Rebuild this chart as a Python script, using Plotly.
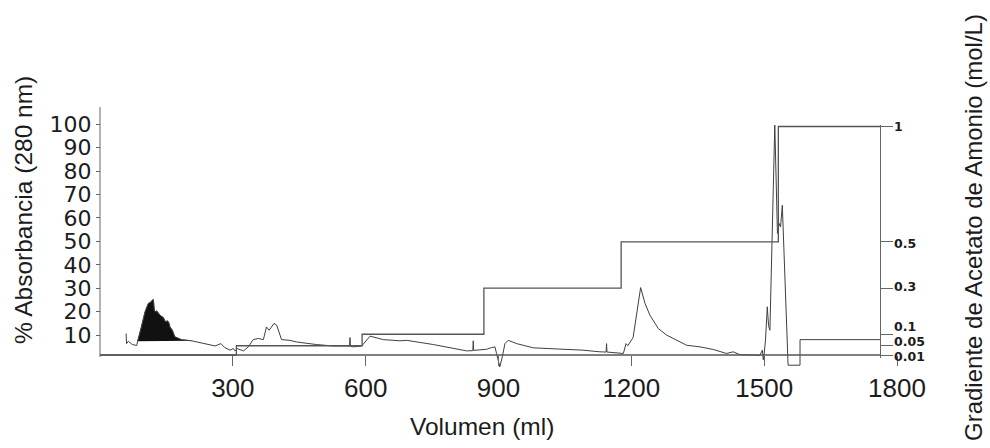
import plotly.graph_objects as go

# ---------------- data ----------------
ABS_ML = [59, 60, 64, 73, 83, 85, 93, 101.6, 109, 114, 118, 120.5, 122.7, 125.6, 127.8,
          135.5, 143, 148, 152.6, 155.8, 158, 163.4, 169, 184, 207, 237, 260, 273, 282,
          293.6, 301, 305, 310, 324, 335, 346, 357.5, 369, 376, 382, 393, 399, 410, 429,
          444, 489, 526, 557, 563.5, 564.6, 565.5, 572, 591, 610, 621, 640, 677.5, 693,
          753, 790, 828, 842, 843, 844, 873, 884.6, 892, 895.6, 903, 908.5, 914.6, 922,
          941, 978.5, 1016, 1054, 1091, 1129, 1143, 1144, 1145, 1182, 1188, 1192, 1204,
          1221, 1231, 1242, 1261, 1280, 1325, 1355, 1385, 1415, 1430, 1445, 1490, 1496,
          1498, 1500, 1503, 1507, 1510, 1513, 1524, 1530, 1534, 1537, 1541, 1554, 1581,
          1581, 1762]
ABS_VAL = [10.7, 6.4, 7.4, 6.0, 5.6, 7.4, 13.0, 19.9, 23.5, 24.0, 24.9, 25.2, 20.6, 19.9, 20.4,
           18.5, 17.5, 15.7, 16.1, 15.2, 13.5, 12.1, 9.3, 8.1, 7.6, 6.4, 5.4, 6.4, 4.7,
           3.6, 4.3, 3.3, 4.3, 3.3, 5.0, 8.1, 8.6, 8.1, 13.5, 12.1, 15.0, 14.3, 8.1, 7.8,
           7.1, 6.0, 5.4, 5.4, 5.3, 9.0, 5.2, 5.0, 5.4, 9.6, 9.0, 8.1, 7.6, 7.8,
           6.0, 4.7, 3.3, 3.4, 7.6, 3.5, 4.0, 4.7, 5.0, 2.2, -3.5, 0.7, 6.4, 7.8,
           6.4, 4.6, 4.3, 4.0, 3.6, 2.9, 2.8, 6.4, 2.8, 2.2, 6.4, 5.5, 9.0,
           30.3, 23.5, 18.5, 12.8, 10.0, 5.7, 5.0, 3.9, 2.2, 2.9, 1.7, 1.4, 3.6,
           -0.5, 2.0, 8.0, 22.1, 14.0, 12.1, 99.6, 53.4, 57.6, 56.2, 65.4, -2.8, -2.8,
           8.1, 8.1]
PEAK_RANGE = (85, 207)          # shaded fraction (ml)

GRAD_ML = [0, 308, 592, 867, 1177, 1532, 1762]
GRAD_CONC = [0.01, 0.05, 0.1, 0.3, 0.5, 1.0, 1.0]

X_TICKS = [300, 600, 900, 1200, 1500, 1800]
Y_TICKS = [10, 20, 30, 40, 50, 60, 70, 80, 90, 100]
G_TICKS = [0.01, 0.05, 0.1, 0.3, 0.5, 1.0]
G_TICKTEXT = ["0.01", "0.05", "0.1", "0.3", "0.5", "1"]

# ---------------- layout / style constants ----------------
W, H = 990, 448
PL, PR, PT, PB = 100, 897, 107, 368
X_RANGE = [0, 1800]
Y_RANGE = [-4, 107.3]
X_RIGHT_AXIS = 1762
AXIS_Y_PX = 355
G_LABEL_YSHIFT = [-1.5, 4.5, 7.5, 2, -2, 0]   # spread crowded right-axis labels (px)


def fx(px):
    return (px - PL) / (PR - PL)


def fy(py):
    return (PB - py) / (PB - PT)


right_pos = (X_RIGHT_AXIS - X_RANGE[0]) / (X_RANGE[1] - X_RANGE[0])

LINE_COL = "#404040"
GRAD_COL = "#555555"
TXT = "#1c1c1c"
SANS = "Liberation Sans, Arial, sans-serif"

fig = go.Figure()

# shaded peak
pk_x = [x for x in ABS_ML if PEAK_RANGE[0] <= x <= PEAK_RANGE[1]]
pk_y = [y for x, y in zip(ABS_ML, ABS_VAL) if PEAK_RANGE[0] <= x <= PEAK_RANGE[1]]
fig.add_trace(go.Scatter(x=pk_x, y=pk_y, mode="lines", fill="toself",
                         fillcolor="#111111", line=dict(color="#111111", width=0.5),
                         hoverinfo="skip", showlegend=False))

# absorbance
fig.add_trace(go.Scatter(x=ABS_ML, y=ABS_VAL, mode="lines",
                         line=dict(color=LINE_COL, width=1), showlegend=False))

# gradient
fig.add_trace(go.Scatter(x=GRAD_ML, y=GRAD_CONC, mode="lines", yaxis="y2",
                         line=dict(color=GRAD_COL, width=1.3, shape="hv"),
                         showlegend=False))

g_px_per = (355 - 126.5) / (1.0 - 0.01)
g_lo = 0.01 - (358 - 355) / g_px_per
g_hi = 1.0 + (126.5 - 125) / g_px_per

annotations = [
    dict(text="Volumen (ml)", xref="paper", yref="paper", x=fx(482), y=fy(426),
         xanchor="center", yanchor="middle", showarrow=False,
         font=dict(family=SANS, size=24.5, color=TXT)),
    dict(text="% Absorbancia (280 nm)", xref="paper", yref="paper", x=fx(23), y=fy(210),
         xanchor="center", yanchor="middle", showarrow=False, textangle=-90,
         font=dict(family=SANS, size=24.5, color=TXT)),
    dict(text="Gradiente de Acetato de Amonio (mol/L)", xref="paper", yref="paper",
         x=fx(973), y=fy(228), xanchor="center", yanchor="middle", showarrow=False,
         textangle=-90, font=dict(family=SANS, size=24, color=TXT)),
]
for v, t, s in zip(G_TICKS, G_TICKTEXT, G_LABEL_YSHIFT):
    annotations.append(dict(text=t, xref="paper", yref="y2", x=fx(893), y=v, yshift=s,
                            xanchor="left", yanchor="middle", showarrow=False,
                            borderpad=0,
                            font=dict(family="DejaVu Sans, sans-serif", size=12.5,
                                      color=TXT, weight="bold")))

fig.update_layout(
    width=W, height=H,
    margin=dict(l=PL, r=W - PR, t=PT, b=H - PB),
    paper_bgcolor="white", plot_bgcolor="rgba(0,0,0,0)",
    xaxis=dict(range=X_RANGE, anchor="free", position=fy(AXIS_Y_PX),
               showline=False, showgrid=False, zeroline=False,
               tickvals=X_TICKS, ticks="outside", ticklen=10, tickwidth=1,
               tickcolor="#666666",
               tickfont=dict(family=SANS, size=26, color=TXT)),
    yaxis=dict(range=Y_RANGE, anchor="free", position=0,
               showline=False, showgrid=False, zeroline=False,
               tickvals=Y_TICKS, ticks="outside", ticklen=4, tickwidth=1,
               tickcolor="#666666", ticksuffix="  ",
               tickfont=dict(family="DejaVu Sans, sans-serif", size=22, color=TXT)),
    yaxis2=dict(range=[g_lo, g_hi], domain=[fy(358), fy(125)],
                anchor="free", position=right_pos, side="right",
                showline=True, linecolor="#666666", linewidth=1,
                showgrid=False, zeroline=False, showticklabels=False,
                tickvals=G_TICKS, ticks="outside", ticklen=12,
                tickwidth=1, tickcolor="#666666"),
    shapes=[
        dict(type="line", xref="paper", yref="paper", x0=0, x1=right_pos,
             y0=fy(AXIS_Y_PX), y1=fy(AXIS_Y_PX), line=dict(color="#555555", width=1.3)),
        dict(type="line", xref="paper", yref="paper", x0=0, x1=0,
             y0=fy(357), y1=1, line=dict(color="#666666", width=1)),
    ],
    annotations=annotations,
)

fig.write_html("out.html")
